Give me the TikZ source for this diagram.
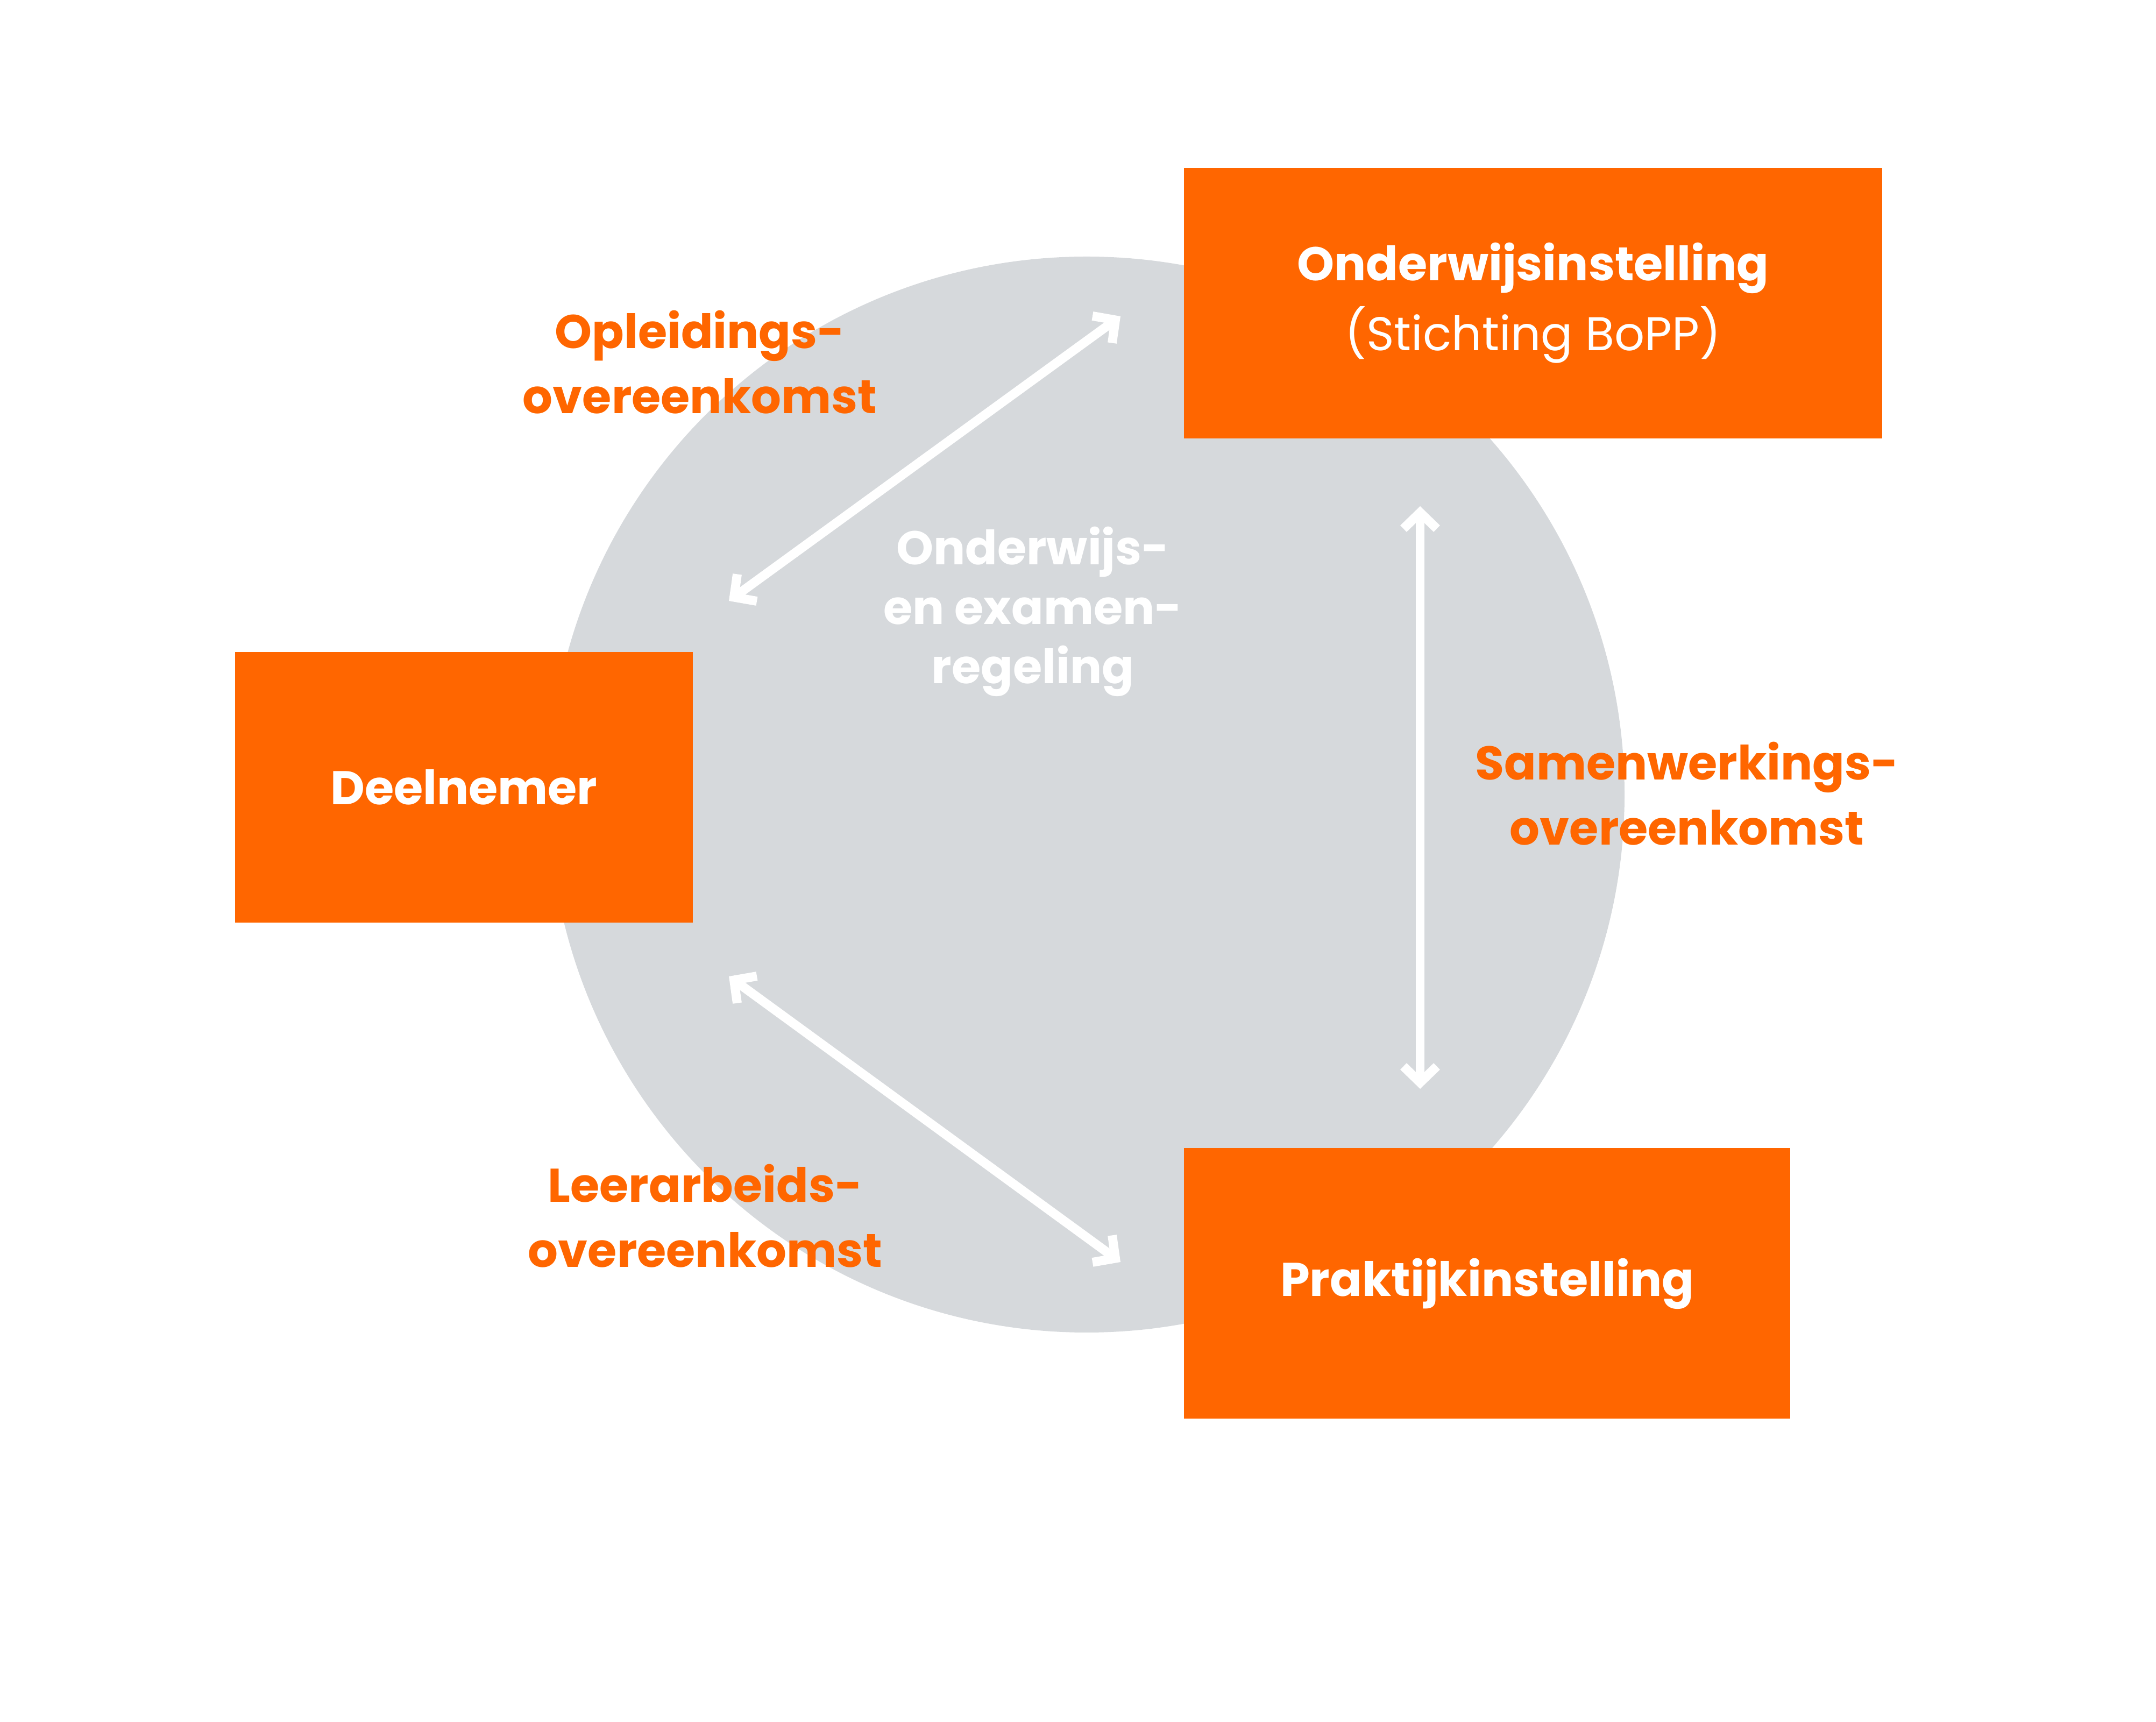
\documentclass[tikz,border=0pt]{standalone}
\usepackage{fontspec}
\setmainfont{Poppins}
\usepackage{tikz}
\usetikzlibrary{shapes,arrows.meta,positioning}
\usepackage{xcolor}
\definecolor{bopporange}{HTML}{FF6600}
\definecolor{boppgrey}{HTML}{D6D9DC}

\begin{document}
\begin{tikzpicture}[x=1cm, y=1cm, font=\fontsize{25}{34.4}\selectfont]
\tikzstyle{box} = [rectangle, fill=bopporange, text=white, align=center, minimum height=5.03cm, inner sep=0pt]
\tikzstyle{deal} = [text=bopporange, align=center, font=\fontsize{25}{34.4}\selectfont\bfseries]
\tikzstyle{arrow} = [white, line width=4.8pt, {Straight Barb[length=0.3cm,width=0.62cm]}-{Straight Barb[length=0.3cm,width=0.62cm]}]

\useasboundingbox (0,0) rectangle (40.08,32);
\fill [boppgrey] (20.2,17.23) circle (10cm);

\node [box, minimum width=12.98cm, font=\fontsize{25}{37}\selectfont] (school) at (28.5,26.365) {\textbf{Onderwijsinstelling}\\(Stichting BoPP)};
\node [box, minimum width=8.51cm] (student) at (8.625,17.365) {\textbf{Deelnemer}};
\node [box, minimum width=11.27cm] (company) at (27.645,8.14) {\textbf{Praktijkinstelling}};

\node [deal] (opl) at (13.01,25.27) {Opleidings-\\overeenkomst};
\node [deal] (sam) at (31.36,17.25) {Samenwerkings-\\overeenkomst};
\node [deal] (lea) at (13.11,9.40) {Leerarbeids-\\overeenkomst};
\node [deal, text=white, font=\fontsize{25}{31.5}\selectfont\bfseries] (oer) at (19.2,20.63) {Onderwijs-\\en examen-\\regeling};

% arrow ends
\coordinate (oplA) at (13.55,20.83);
\coordinate (oplB) at (20.83,26.12);
\coordinate (samA) at (26.4,22.59);
\coordinate (samB) at (26.4,11.76);
\coordinate (leaA) at (13.55,13.85);
\coordinate (leaB) at (20.83,8.54);

\draw [arrow] (oplA) -- (oplB);
\draw [arrow] (samA) -- (samB);
\draw [arrow] (leaA) -- (leaB);
\end{tikzpicture}
\end{document}
